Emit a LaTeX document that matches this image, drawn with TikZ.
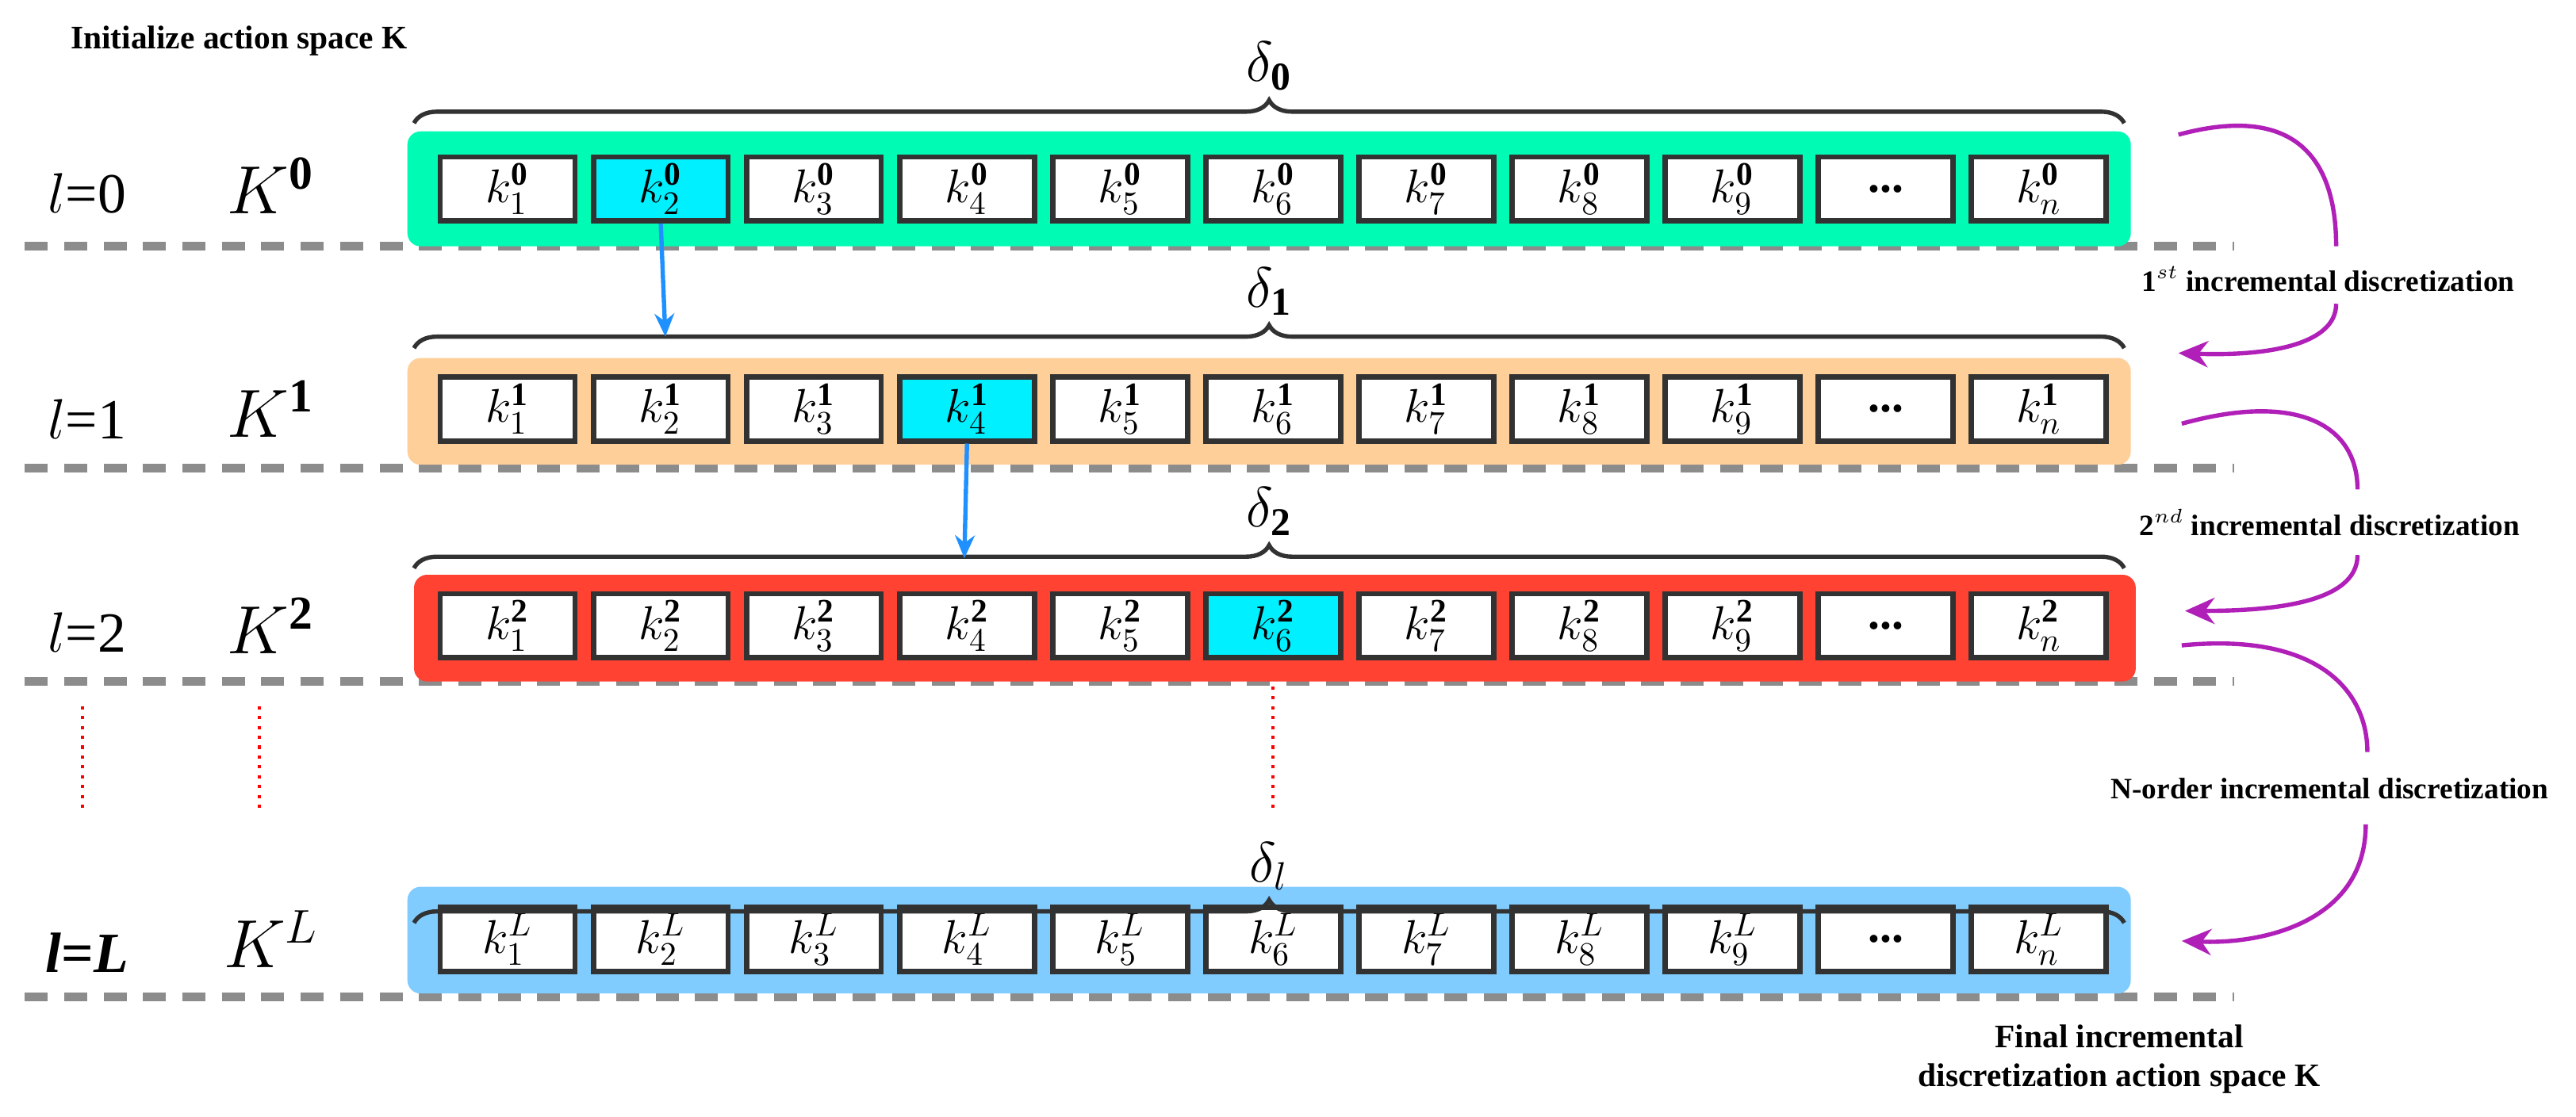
\documentclass[tikz,border=0pt]{standalone}
\usepackage{fontspec}
\setmainfont{Liberation Serif}
\usetikzlibrary{decorations.pathreplacing,arrows.meta}
\definecolor{cgreen}{RGB}{0,252,180}
\definecolor{corange}{RGB}{255,207,153}
\definecolor{cred}{RGB}{255,66,50}
\definecolor{cblue}{RGB}{128,204,255}
\definecolor{ccyan}{RGB}{0,240,255}
\definecolor{carrow}{RGB}{30,144,255}
\definecolor{cmag}{RGB}{176,32,184}
\definecolor{cbox}{RGB}{50,50,50}
\begin{document}
\begin{tikzpicture}[x=0.5pt,y=-0.5pt,
  kbox/.style={draw=cbox,line width=1.6pt,fill=white,minimum width=41pt,minimum height=19.5pt,inner sep=0pt,font=\Large},
  bar/.style={rounded corners=4pt,draw=none},
  gdash/.style={draw=gray!90,line width=2.6pt,dash pattern=on 7pt off 5pt},
  brc/.style={decorate,decoration={brace,amplitude=7pt},draw=cbox,line width=1.3pt},
  mag/.style={draw=cmag,line width=1.3pt},
  lbl/.style={font=\small\bfseries},
  dotl/.style={draw=red,line width=1pt,dotted}]
\useasboundingbox (0,0) rectangle (1568,680);
% dashed lines
\foreach \y/\n in {150/d0,285/d1,415/d2,607/d3}{\coordinate (\n a) at (15,\y); \coordinate (\n b) at (1360,\y); \draw[gdash] (\n a) -- (\n b);}
% bars
\path[bar,fill=cgreen] (248,80) rectangle (1297,150);
\path[bar,fill=corange] (248,218) rectangle (1297,283);
\path[bar,fill=cred] (252,350) rectangle (1300,415);
\path[bar,fill=cblue] (248,540) rectangle (1297,605);
\node[anchor=west,font=\normalsize\bfseries] (title) at (36,25) {Initialize action space K};
% rows
\foreach \r/\y/\s/\h in {0/115/\mathbf{0}/2, 1/249/\mathbf{1}/4, 2/381/\mathbf{2}/6, L/572/L/0}{
  \foreach \i in {1,...,9}{
    \ifnum\i=\h \def\fc{ccyan}\else\def\fc{white}\fi
    \node[kbox,fill=\fc] (r\r b\i) at ({309+93.2*(\i-1)},\y) {$k_{\i}^{\s}$};
  }
  \node[kbox] (r\r b10) at ({309+93.2*9},\y) {\textbf{...}};
  \node[kbox] (r\r b11) at ({309+93.2*10},\y) {$k_{n}^{\s}$};
}
% left labels
\node[font=\LARGE] (l0) at (53,118) {$l$=0};
\node[font=\LARGE] (l1) at (53,255) {$l$=1};
\node[font=\LARGE] (l2) at (53,385) {$l$=2};
\node[font=\LARGE] (lL) at (53,580) {\textbf{\textit{l}=\textit{L}}};
\node[font=\huge] (K0) at (165,113) {$K^{\mathbf{0}}$};
\node[font=\huge] (K1) at (165,249) {$K^{\mathbf{1}}$};
\node[font=\huge] (K2) at (165,381) {$K^{\mathbf{2}}$};
\node[font=\huge] (KL) at (165,572) {$K^{L}$};
% braces
\foreach \y/\tx/\n in {75/\delta_{\mathbf 0}/0, 212/\delta_{\mathbf 1}/1, 346/\delta_{\mathbf 2}/2, 562/\delta_l/3}{
  \coordinate (ba\n) at (252,\y); \coordinate (bb\n) at (1293,\y);
  \draw[brc] (ba\n) -- node[above=6pt,font=\LARGE] (del\n) {$\tx$} (bb\n);
}
% blue arrows
\coordinate (e1) at (405,205);
\coordinate (e2) at (587,340);
\draw[carrow,line width=1.3pt,-{Stealth[length=7pt,width=6pt]}] (r0b2.south) -- (e1);
\draw[carrow,line width=1.3pt,-{Stealth[length=7pt,width=6pt]}] (r1b4.south) -- (e2);
% red dotted
\coordinate (p1) at (50,430); \coordinate (p2) at (50,495);
\coordinate (p3) at (158,430); \coordinate (p4) at (158,495);
\draw[dotl] (p1) -- (p2); \draw[dotl] (p3) -- (p4);
\draw[dotl] (r2b6.south |- 0,418) -- (r2b6.south |- 0,495);
% magenta arrows
\node[lbl] (t1) at (1417,170) {1$^{st}$ incremental discretization};
\node[lbl] (t2) at (1418,318) {2$^{nd}$ incremental discretization};
\node[lbl] (t3) at (1418,480) {N-order incremental discretization};
\coordinate (s1) at (1326,82); \coordinate (f1) at (1326,215);
\coordinate (s2) at (1328,258); \coordinate (f2) at (1330,372);
\coordinate (s3) at (1328,393); \coordinate (f3) at (1328,573);
\draw[mag] (s1) .. controls (1400,62) and (1422,100) .. (1422,150);
\draw[mag,-{Stealth[length=9pt,width=8pt]}] (1422,185) .. controls (1422,210) and (1380,217) .. (f1);
\draw[mag] (s2) .. controls (1400,238) and (1435,260) .. (1435,298);
\draw[mag,-{Stealth[length=9pt,width=8pt]}] (1435,338) .. controls (1435,368) and (1380,372) .. (f2);
\draw[mag] (s3) .. controls (1410,385) and (1441,420) .. (1441,458);
\draw[mag,-{Stealth[length=9pt,width=8pt]}] (1440,502) .. controls (1440,560) and (1380,575) .. (f3);
\node[lbl,align=center,font=\normalsize\bfseries] (fin) at (1290,645) {Final incremental\\discretization action space K};
\end{tikzpicture}
\end{document}
